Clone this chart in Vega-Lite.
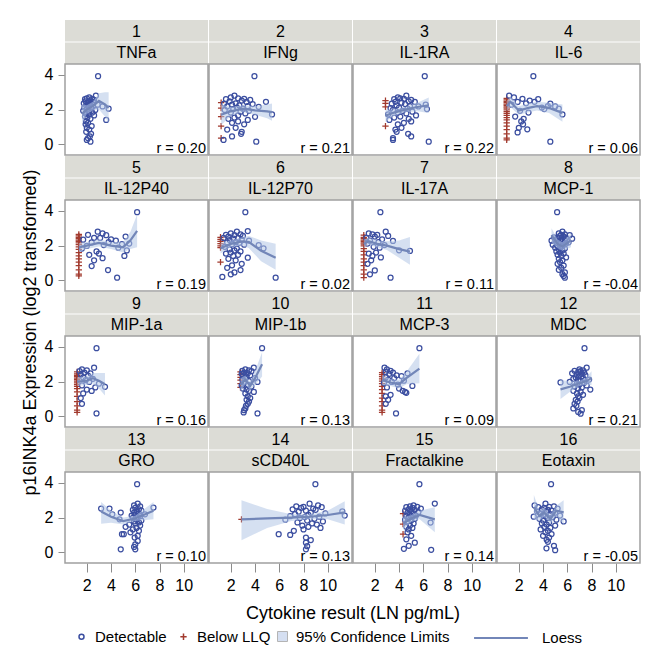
{
"$schema": "https://vega.github.io/schema/vega-lite/v6.json",
"background": "white",
"padding": {"left": 22, "top": 19, "right": 10, "bottom": 5},
"bounds": "flush",
"title": {"text": "p16INK4a Expression (log2 transformed)", "orient": "left", "anchor": "middle", "fontSize": 18, "fontWeight": "normal", "color": "#000", "font": "Liberation Sans", "offset": 4},
"data": {"values": [
{"k":"s","p":1,"n":"TNFa","r":"r = 0.20"},
{"k":"s","p":2,"n":"IFNg","r":"r = 0.21"},
{"k":"s","p":3,"n":"IL-1RA","r":"r = 0.22"},
{"k":"s","p":4,"n":"IL-6","r":"r = 0.06"},
{"k":"s","p":5,"n":"IL-12P40","r":"r = 0.19"},
{"k":"s","p":6,"n":"IL-12P70","r":"r = 0.02"},
{"k":"s","p":7,"n":"IL-17A","r":"r = 0.11"},
{"k":"s","p":8,"n":"MCP-1","r":"r = -0.04"},
{"k":"s","p":9,"n":"MIP-1a","r":"r = 0.16"},
{"k":"s","p":10,"n":"MIP-1b","r":"r = 0.13"},
{"k":"s","p":11,"n":"MCP-3","r":"r = 0.09"},
{"k":"s","p":12,"n":"MDC","r":"r = 0.21"},
{"k":"s","p":13,"n":"GRO","r":"r = 0.10"},
{"k":"s","p":14,"n":"sCD40L","r":"r = 0.13"},
{"k":"s","p":15,"n":"Fractalkine","r":"r = 0.14"},
{"k":"s","p":16,"n":"Eotaxin","r":"r = -0.05"},

{"k":"o","p":1,"t":"D","x":2.93,"y":3.93},{"k":"o","p":1,"t":"D","x":2.75,"y":2.80},{"k":"o","p":1,"t":"D","x":2.2,"y":2.70},{"k":"o","p":1,"t":"D","x":2.0,"y":2.65},{"k":"o","p":1,"t":"D","x":2.45,"y":2.62},{"k":"o","p":1,"t":"D","x":1.85,"y":2.60},{"k":"o","p":1,"t":"D","x":2.6,"y":2.56},{"k":"o","p":1,"t":"D","x":2.3,"y":2.52},{"k":"o","p":1,"t":"D","x":1.9,"y":2.48},{"k":"o","p":1,"t":"D","x":2.15,"y":2.45},{"k":"o","p":1,"t":"D","x":2.55,"y":2.44},{"k":"o","p":1,"t":"D","x":2.05,"y":2.40},{"k":"o","p":1,"t":"D","x":1.75,"y":2.36},{"k":"o","p":1,"t":"D","x":2.4,"y":2.34},{"k":"o","p":1,"t":"D","x":2.25,"y":2.32},{"k":"o","p":1,"t":"D","x":2.9,"y":2.28},{"k":"o","p":1,"t":"D","x":1.95,"y":2.24},{"k":"o","p":1,"t":"D","x":2.1,"y":2.20},{"k":"o","p":1,"t":"D","x":3.3,"y":2.18},{"k":"o","p":1,"t":"D","x":2.5,"y":2.16},{"k":"o","p":1,"t":"D","x":1.8,"y":2.12},{"k":"o","p":1,"t":"D","x":2.35,"y":2.08},{"k":"o","p":1,"t":"D","x":3.8,"y":2.05},{"k":"o","p":1,"t":"D","x":2.0,"y":2.03},{"k":"o","p":1,"t":"D","x":2.7,"y":1.98},{"k":"o","p":1,"t":"D","x":1.7,"y":1.93},{"k":"o","p":1,"t":"D","x":2.2,"y":1.88},{"k":"o","p":1,"t":"D","x":2.45,"y":1.83},{"k":"o","p":1,"t":"D","x":1.9,"y":1.78},{"k":"o","p":1,"t":"D","x":2.15,"y":1.72},{"k":"o","p":1,"t":"D","x":2.6,"y":1.66},{"k":"o","p":1,"t":"D","x":1.85,"y":1.60},{"k":"o","p":1,"t":"D","x":2.05,"y":1.54},{"k":"o","p":1,"t":"D","x":2.3,"y":1.47},{"k":"o","p":1,"t":"D","x":3.6,"y":1.40},{"k":"o","p":1,"t":"D","x":1.95,"y":1.32},{"k":"o","p":1,"t":"D","x":2.1,"y":1.24},{"k":"o","p":1,"t":"D","x":1.9,"y":1.15},{"k":"o","p":1,"t":"D","x":2.4,"y":1.05},{"k":"o","p":1,"t":"D","x":2.0,"y":0.95},{"k":"o","p":1,"t":"D","x":2.2,"y":0.85},{"k":"o","p":1,"t":"D","x":1.95,"y":0.72},{"k":"o","p":1,"t":"D","x":2.35,"y":0.60},{"k":"o","p":1,"t":"D","x":2.25,"y":0.45},{"k":"o","p":1,"t":"D","x":2.1,"y":0.35},{"k":"o","p":1,"t":"D","x":2.0,"y":0.25},{"k":"o","p":1,"t":"D","x":2.3,"y":0.15},

{"k":"o","p":2,"t":"D","x":3.95,"y":3.93},{"k":"o","p":2,"t":"D","x":2.3,"y":2.80},{"k":"o","p":2,"t":"D","x":2.0,"y":2.70},{"k":"o","p":2,"t":"D","x":2.6,"y":2.65},{"k":"o","p":2,"t":"D","x":3.1,"y":2.62},{"k":"o","p":2,"t":"D","x":1.6,"y":2.60},{"k":"o","p":2,"t":"D","x":3.6,"y":2.56},{"k":"o","p":2,"t":"D","x":2.9,"y":2.52},{"k":"o","p":2,"t":"D","x":1.9,"y":2.48},{"k":"o","p":2,"t":"D","x":4.9,"y":2.45},{"k":"o","p":2,"t":"D","x":3.3,"y":2.44},{"k":"o","p":2,"t":"B","x":1.2,"y":2.40},{"k":"o","p":2,"t":"D","x":2.4,"y":2.36},{"k":"o","p":2,"t":"D","x":1.45,"y":2.34},{"k":"o","p":2,"t":"D","x":3.8,"y":2.32},{"k":"o","p":2,"t":"D","x":2.1,"y":2.28},{"k":"o","p":2,"t":"D","x":2.7,"y":2.24},{"k":"o","p":2,"t":"D","x":3.4,"y":2.20},{"k":"o","p":2,"t":"D","x":1.7,"y":2.18},{"k":"o","p":2,"t":"D","x":4.3,"y":2.16},{"k":"o","p":2,"t":"D","x":2.5,"y":2.12},{"k":"o","p":2,"t":"B","x":1.2,"y":2.08},{"k":"o","p":2,"t":"D","x":3.0,"y":2.05},{"k":"o","p":2,"t":"D","x":2.2,"y":2.03},{"k":"o","p":2,"t":"D","x":1.5,"y":1.98},{"k":"o","p":2,"t":"D","x":3.5,"y":1.93},{"k":"o","p":2,"t":"D","x":2.8,"y":1.88},{"k":"o","p":2,"t":"D","x":2.0,"y":1.83},{"k":"o","p":2,"t":"D","x":3.2,"y":1.78},{"k":"o","p":2,"t":"D","x":5.4,"y":1.72},{"k":"o","p":2,"t":"D","x":2.6,"y":1.66},{"k":"o","p":2,"t":"B","x":1.2,"y":1.60},{"k":"o","p":2,"t":"D","x":4.0,"y":1.58},{"k":"o","p":2,"t":"D","x":2.3,"y":1.54},{"k":"o","p":2,"t":"D","x":1.8,"y":1.47},{"k":"o","p":2,"t":"D","x":3.4,"y":1.40},{"k":"o","p":2,"t":"D","x":2.6,"y":1.32},{"k":"o","p":2,"t":"D","x":2.1,"y":1.24},{"k":"o","p":2,"t":"D","x":3.1,"y":1.15},{"k":"o","p":2,"t":"B","x":1.2,"y":1.05},{"k":"o","p":2,"t":"D","x":2.4,"y":0.95},{"k":"o","p":2,"t":"D","x":1.7,"y":0.85},{"k":"o","p":2,"t":"D","x":2.9,"y":0.72},{"k":"o","p":2,"t":"D","x":2.85,"y":0.60},{"k":"o","p":2,"t":"D","x":2.1,"y":0.45},{"k":"o","p":2,"t":"B","x":1.2,"y":0.35},{"k":"o","p":2,"t":"D","x":1.4,"y":0.25},{"k":"o","p":2,"t":"D","x":4.1,"y":0.15},

{"k":"o","p":3,"t":"D","x":6.12,"y":3.93},{"k":"o","p":3,"t":"D","x":4.6,"y":2.80},{"k":"o","p":3,"t":"D","x":3.9,"y":2.70},{"k":"o","p":3,"t":"D","x":4.1,"y":2.65},{"k":"o","p":3,"t":"D","x":4.4,"y":2.62},{"k":"o","p":3,"t":"D","x":3.6,"y":2.60},{"k":"o","p":3,"t":"D","x":5.0,"y":2.56},{"k":"o","p":3,"t":"B","x":2.88,"y":2.52},{"k":"o","p":3,"t":"D","x":4.8,"y":2.48},{"k":"o","p":3,"t":"D","x":3.7,"y":2.45},{"k":"o","p":3,"t":"D","x":5.3,"y":2.44},{"k":"o","p":3,"t":"D","x":4.2,"y":2.40},{"k":"o","p":3,"t":"B","x":2.88,"y":2.36},{"k":"o","p":3,"t":"D","x":3.4,"y":2.34},{"k":"o","p":3,"t":"D","x":4.5,"y":2.32},{"k":"o","p":3,"t":"D","x":6.2,"y":2.28},{"k":"o","p":3,"t":"D","x":3.8,"y":2.24},{"k":"o","p":3,"t":"D","x":4.9,"y":2.20},{"k":"o","p":3,"t":"D","x":5.6,"y":2.18},{"k":"o","p":3,"t":"B","x":2.88,"y":2.16},{"k":"o","p":3,"t":"D","x":4.0,"y":2.12},{"k":"o","p":3,"t":"D","x":3.3,"y":2.08},{"k":"o","p":3,"t":"D","x":4.7,"y":2.05},{"k":"o","p":3,"t":"D","x":6.3,"y":2.03},{"k":"o","p":3,"t":"D","x":3.5,"y":1.98},{"k":"o","p":3,"t":"D","x":4.3,"y":1.93},{"k":"o","p":3,"t":"D","x":5.1,"y":1.88},{"k":"o","p":3,"t":"D","x":3.9,"y":1.83},{"k":"o","p":3,"t":"D","x":4.6,"y":1.78},{"k":"o","p":3,"t":"D","x":3.1,"y":1.72},{"k":"o","p":3,"t":"D","x":5.4,"y":1.66},{"k":"o","p":3,"t":"D","x":4.1,"y":1.60},{"k":"o","p":3,"t":"D","x":3.6,"y":1.54},{"k":"o","p":3,"t":"D","x":4.8,"y":1.47},{"k":"o","p":3,"t":"D","x":3.2,"y":1.40},{"k":"o","p":3,"t":"D","x":5.0,"y":1.32},{"k":"o","p":3,"t":"D","x":4.4,"y":1.24},{"k":"o","p":3,"t":"D","x":3.9,"y":1.15},{"k":"o","p":3,"t":"B","x":2.88,"y":1.05},{"k":"o","p":3,"t":"D","x":4.2,"y":0.95},{"k":"o","p":3,"t":"D","x":3.7,"y":0.85},{"k":"o","p":3,"t":"D","x":3.8,"y":0.72},{"k":"o","p":3,"t":"D","x":4.75,"y":0.60},{"k":"o","p":3,"t":"D","x":5.0,"y":0.45},{"k":"o","p":3,"t":"D","x":3.5,"y":0.35},{"k":"o","p":3,"t":"D","x":3.5,"y":0.25},{"k":"o","p":3,"t":"D","x":6.45,"y":0.15},

{"k":"o","p":4,"t":"B","x":1.0,"y":2.65},{"k":"o","p":4,"t":"B","x":1.0,"y":2.56},{"k":"o","p":4,"t":"B","x":1.0,"y":2.48},{"k":"o","p":4,"t":"B","x":1.0,"y":2.40},{"k":"o","p":4,"t":"B","x":1.0,"y":2.32},{"k":"o","p":4,"t":"B","x":1.0,"y":2.24},{"k":"o","p":4,"t":"B","x":1.0,"y":2.16},{"k":"o","p":4,"t":"B","x":1.0,"y":2.08},{"k":"o","p":4,"t":"B","x":1.0,"y":1.98},{"k":"o","p":4,"t":"B","x":1.0,"y":1.88},{"k":"o","p":4,"t":"B","x":1.0,"y":1.78},{"k":"o","p":4,"t":"B","x":1.0,"y":1.66},{"k":"o","p":4,"t":"B","x":1.0,"y":1.54},{"k":"o","p":4,"t":"B","x":1.0,"y":1.40},{"k":"o","p":4,"t":"B","x":1.0,"y":1.24},{"k":"o","p":4,"t":"B","x":1.0,"y":1.05},{"k":"o","p":4,"t":"B","x":1.0,"y":0.85},{"k":"o","p":4,"t":"B","x":1.0,"y":0.60},{"k":"o","p":4,"t":"B","x":1.0,"y":0.35},{"k":"o","p":4,"t":"B","x":1.0,"y":0.25},
{"k":"o","p":4,"t":"D","x":3.2,"y":3.93},{"k":"o","p":4,"t":"D","x":1.2,"y":2.80},{"k":"o","p":4,"t":"D","x":1.6,"y":2.70},{"k":"o","p":4,"t":"D","x":2.3,"y":2.62},{"k":"o","p":4,"t":"D","x":3.6,"y":2.60},{"k":"o","p":4,"t":"D","x":2.9,"y":2.52},{"k":"o","p":4,"t":"D","x":3.3,"y":2.45},{"k":"o","p":4,"t":"D","x":1.9,"y":2.44},{"k":"o","p":4,"t":"D","x":2.6,"y":2.36},{"k":"o","p":4,"t":"D","x":4.6,"y":2.34},{"k":"o","p":4,"t":"D","x":1.4,"y":2.28},{"k":"o","p":4,"t":"D","x":4.4,"y":2.20},{"k":"o","p":4,"t":"D","x":5.0,"y":2.18},{"k":"o","p":4,"t":"D","x":3.9,"y":2.12},{"k":"o","p":4,"t":"D","x":5.3,"y":2.05},{"k":"o","p":4,"t":"D","x":4.1,"y":2.03},{"k":"o","p":4,"t":"D","x":2.1,"y":1.93},{"k":"o","p":4,"t":"D","x":2.8,"y":1.83},{"k":"o","p":4,"t":"D","x":5.6,"y":1.72},{"k":"o","p":4,"t":"D","x":1.7,"y":1.60},{"k":"o","p":4,"t":"D","x":2.4,"y":1.47},{"k":"o","p":4,"t":"D","x":2.2,"y":1.32},{"k":"o","p":4,"t":"D","x":2.35,"y":1.15},{"k":"o","p":4,"t":"D","x":2.7,"y":0.86},{"k":"o","p":4,"t":"D","x":2.0,"y":0.95},{"k":"o","p":4,"t":"D","x":1.9,"y":0.68},{"k":"o","p":4,"t":"D","x":4.6,"y":0.15},

{"k":"o","p":5,"t":"B","x":1.34,"y":2.65},{"k":"o","p":5,"t":"B","x":1.34,"y":2.56},{"k":"o","p":5,"t":"B","x":1.34,"y":2.48},{"k":"o","p":5,"t":"B","x":1.34,"y":2.40},{"k":"o","p":5,"t":"B","x":1.34,"y":2.32},{"k":"o","p":5,"t":"B","x":1.34,"y":2.24},{"k":"o","p":5,"t":"B","x":1.34,"y":2.16},{"k":"o","p":5,"t":"B","x":1.34,"y":2.05},{"k":"o","p":5,"t":"B","x":1.34,"y":1.93},{"k":"o","p":5,"t":"B","x":1.34,"y":1.78},{"k":"o","p":5,"t":"B","x":1.34,"y":1.60},{"k":"o","p":5,"t":"B","x":1.34,"y":1.40},{"k":"o","p":5,"t":"B","x":1.34,"y":1.24},{"k":"o","p":5,"t":"B","x":1.34,"y":1.05},{"k":"o","p":5,"t":"B","x":1.34,"y":0.85},{"k":"o","p":5,"t":"B","x":1.34,"y":0.60},{"k":"o","p":5,"t":"B","x":1.34,"y":0.35},{"k":"o","p":5,"t":"B","x":1.34,"y":0.25},
{"k":"o","p":5,"t":"D","x":6.15,"y":3.93},{"k":"o","p":5,"t":"D","x":2.9,"y":2.80},{"k":"o","p":5,"t":"D","x":3.3,"y":2.70},{"k":"o","p":5,"t":"D","x":2.1,"y":2.62},{"k":"o","p":5,"t":"D","x":3.6,"y":2.60},{"k":"o","p":5,"t":"D","x":5.2,"y":2.52},{"k":"o","p":5,"t":"D","x":2.6,"y":2.45},{"k":"o","p":5,"t":"D","x":3.1,"y":2.44},{"k":"o","p":5,"t":"D","x":4.0,"y":2.36},{"k":"o","p":5,"t":"D","x":1.7,"y":2.34},{"k":"o","p":5,"t":"D","x":4.4,"y":2.28},{"k":"o","p":5,"t":"D","x":3.8,"y":2.20},{"k":"o","p":5,"t":"D","x":2.4,"y":2.18},{"k":"o","p":5,"t":"D","x":5.5,"y":2.12},{"k":"o","p":5,"t":"D","x":4.9,"y":2.08},{"k":"o","p":5,"t":"D","x":3.4,"y":2.03},{"k":"o","p":5,"t":"D","x":2.0,"y":1.98},{"k":"o","p":5,"t":"D","x":4.6,"y":1.88},{"k":"o","p":5,"t":"D","x":1.6,"y":1.83},{"k":"o","p":5,"t":"D","x":5.3,"y":1.72},{"k":"o","p":5,"t":"D","x":2.8,"y":1.66},{"k":"o","p":5,"t":"D","x":3.0,"y":1.54},{"k":"o","p":5,"t":"D","x":2.2,"y":1.47},{"k":"o","p":5,"t":"D","x":5.1,"y":1.40},{"k":"o","p":5,"t":"D","x":3.3,"y":1.27},{"k":"o","p":5,"t":"D","x":2.6,"y":1.15},{"k":"o","p":5,"t":"D","x":2.4,"y":0.82},{"k":"o","p":5,"t":"D","x":3.75,"y":0.59},{"k":"o","p":5,"t":"D","x":4.5,"y":0.15},

{"k":"o","p":6,"t":"B","x":1.15,"y":2.48},{"k":"o","p":6,"t":"B","x":1.15,"y":2.36},{"k":"o","p":6,"t":"B","x":1.15,"y":2.24},{"k":"o","p":6,"t":"B","x":1.15,"y":2.12},{"k":"o","p":6,"t":"B","x":1.15,"y":1.98},{"k":"o","p":6,"t":"B","x":1.15,"y":1.88},{"k":"o","p":6,"t":"B","x":1.15,"y":1.05},
{"k":"o","p":6,"t":"D","x":3.2,"y":3.93},{"k":"o","p":6,"t":"D","x":3.4,"y":2.84},{"k":"o","p":6,"t":"D","x":2.5,"y":2.80},{"k":"o","p":6,"t":"D","x":2.0,"y":2.70},{"k":"o","p":6,"t":"D","x":2.8,"y":2.65},{"k":"o","p":6,"t":"D","x":1.6,"y":2.62},{"k":"o","p":6,"t":"D","x":2.3,"y":2.60},{"k":"o","p":6,"t":"D","x":3.0,"y":2.56},{"k":"o","p":6,"t":"D","x":1.8,"y":2.52},{"k":"o","p":6,"t":"D","x":2.6,"y":2.45},{"k":"o","p":6,"t":"D","x":1.4,"y":2.44},{"k":"o","p":6,"t":"D","x":2.2,"y":2.40},{"k":"o","p":6,"t":"D","x":2.9,"y":2.34},{"k":"o","p":6,"t":"D","x":1.9,"y":2.32},{"k":"o","p":6,"t":"D","x":3.5,"y":2.28},{"k":"o","p":6,"t":"D","x":2.4,"y":2.20},{"k":"o","p":6,"t":"D","x":1.7,"y":2.18},{"k":"o","p":6,"t":"D","x":2.7,"y":2.16},{"k":"o","p":6,"t":"D","x":2.1,"y":2.08},{"k":"o","p":6,"t":"D","x":4.3,"y":2.03},{"k":"o","p":6,"t":"D","x":3.1,"y":2.05},{"k":"o","p":6,"t":"D","x":1.5,"y":1.93},{"k":"o","p":6,"t":"D","x":4.7,"y":1.84},{"k":"o","p":6,"t":"D","x":2.5,"y":1.83},{"k":"o","p":6,"t":"D","x":1.9,"y":1.78},{"k":"o","p":6,"t":"D","x":2.3,"y":1.72},{"k":"o","p":6,"t":"D","x":2.8,"y":1.66},{"k":"o","p":6,"t":"D","x":2.0,"y":1.60},{"k":"o","p":6,"t":"D","x":1.6,"y":1.54},{"k":"o","p":6,"t":"D","x":2.6,"y":1.47},{"k":"o","p":6,"t":"D","x":2.2,"y":1.40},{"k":"o","p":6,"t":"D","x":3.4,"y":1.30},{"k":"o","p":6,"t":"D","x":1.8,"y":1.24},{"k":"o","p":6,"t":"D","x":2.4,"y":1.15},{"k":"o","p":6,"t":"D","x":2.9,"y":0.95},{"k":"o","p":6,"t":"D","x":2.1,"y":0.86},{"k":"o","p":6,"t":"D","x":1.7,"y":0.72},{"k":"o","p":6,"t":"D","x":2.8,"y":0.59},{"k":"o","p":6,"t":"D","x":2.3,"y":0.45},{"k":"o","p":6,"t":"D","x":2.0,"y":0.34},{"k":"o","p":6,"t":"D","x":1.3,"y":0.19},{"k":"o","p":6,"t":"D","x":5.7,"y":0.15},

{"k":"o","p":7,"t":"B","x":1.09,"y":2.60},{"k":"o","p":7,"t":"B","x":1.09,"y":2.48},{"k":"o","p":7,"t":"B","x":1.09,"y":2.40},{"k":"o","p":7,"t":"B","x":1.09,"y":2.32},{"k":"o","p":7,"t":"B","x":1.09,"y":2.24},{"k":"o","p":7,"t":"B","x":1.09,"y":2.16},{"k":"o","p":7,"t":"B","x":1.09,"y":2.08},{"k":"o","p":7,"t":"B","x":1.09,"y":1.98},{"k":"o","p":7,"t":"B","x":1.09,"y":1.83},{"k":"o","p":7,"t":"B","x":1.09,"y":1.66},{"k":"o","p":7,"t":"B","x":1.09,"y":1.47},{"k":"o","p":7,"t":"B","x":1.09,"y":1.24},{"k":"o","p":7,"t":"B","x":1.09,"y":1.05},{"k":"o","p":7,"t":"B","x":1.09,"y":0.85},{"k":"o","p":7,"t":"B","x":1.09,"y":0.60},{"k":"o","p":7,"t":"B","x":1.09,"y":0.35},{"k":"o","p":7,"t":"B","x":1.09,"y":0.15},
{"k":"o","p":7,"t":"D","x":2.46,"y":3.93},{"k":"o","p":7,"t":"D","x":2.9,"y":2.80},{"k":"o","p":7,"t":"D","x":1.5,"y":2.70},{"k":"o","p":7,"t":"D","x":1.8,"y":2.65},{"k":"o","p":7,"t":"D","x":2.2,"y":2.62},{"k":"o","p":7,"t":"D","x":3.1,"y":2.56},{"k":"o","p":7,"t":"D","x":2.0,"y":2.52},{"k":"o","p":7,"t":"D","x":1.3,"y":2.45},{"k":"o","p":7,"t":"D","x":2.6,"y":2.36},{"k":"o","p":7,"t":"D","x":1.6,"y":2.28},{"k":"o","p":7,"t":"D","x":3.5,"y":2.27},{"k":"o","p":7,"t":"D","x":2.3,"y":2.20},{"k":"o","p":7,"t":"D","x":1.4,"y":2.12},{"k":"o","p":7,"t":"D","x":2.8,"y":2.03},{"k":"o","p":7,"t":"D","x":1.9,"y":1.93},{"k":"o","p":7,"t":"D","x":2.4,"y":1.88},{"k":"o","p":7,"t":"D","x":4.0,"y":1.73},{"k":"o","p":7,"t":"D","x":4.9,"y":1.69},{"k":"o","p":7,"t":"D","x":2.1,"y":1.60},{"k":"o","p":7,"t":"D","x":1.5,"y":1.54},{"k":"o","p":7,"t":"D","x":1.8,"y":1.40},{"k":"o","p":7,"t":"D","x":2.5,"y":1.32},{"k":"o","p":7,"t":"D","x":1.7,"y":1.15},{"k":"o","p":7,"t":"D","x":1.4,"y":0.95},{"k":"o","p":7,"t":"D","x":2.0,"y":0.57},{"k":"o","p":7,"t":"D","x":1.6,"y":0.34},{"k":"o","p":7,"t":"D","x":3.3,"y":0.15},

{"k":"o","p":8,"t":"D","x":5.16,"y":3.93},{"k":"o","p":8,"t":"D","x":5.6,"y":2.80},{"k":"o","p":8,"t":"D","x":5.3,"y":2.70},{"k":"o","p":8,"t":"D","x":5.8,"y":2.65},{"k":"o","p":8,"t":"D","x":5.5,"y":2.62},{"k":"o","p":8,"t":"D","x":6.2,"y":2.60},{"k":"o","p":8,"t":"D","x":5.4,"y":2.56},{"k":"o","p":8,"t":"D","x":5.7,"y":2.52},{"k":"o","p":8,"t":"D","x":4.9,"y":2.48},{"k":"o","p":8,"t":"D","x":5.9,"y":2.45},{"k":"o","p":8,"t":"D","x":5.2,"y":2.44},{"k":"o","p":8,"t":"D","x":6.4,"y":2.40},{"k":"o","p":8,"t":"D","x":5.5,"y":2.36},{"k":"o","p":8,"t":"D","x":5.0,"y":2.34},{"k":"o","p":8,"t":"D","x":5.8,"y":2.32},{"k":"o","p":8,"t":"D","x":4.7,"y":2.28},{"k":"o","p":8,"t":"D","x":5.6,"y":2.24},{"k":"o","p":8,"t":"D","x":5.3,"y":2.20},{"k":"o","p":8,"t":"D","x":6.1,"y":2.18},{"k":"o","p":8,"t":"D","x":5.1,"y":2.16},{"k":"o","p":8,"t":"D","x":5.9,"y":2.12},{"k":"o","p":8,"t":"D","x":5.4,"y":2.08},{"k":"o","p":8,"t":"D","x":4.8,"y":2.05},{"k":"o","p":8,"t":"D","x":5.7,"y":2.03},{"k":"o","p":8,"t":"D","x":5.2,"y":1.98},{"k":"o","p":8,"t":"D","x":5.5,"y":1.93},{"k":"o","p":8,"t":"D","x":5.0,"y":1.88},{"k":"o","p":8,"t":"D","x":5.8,"y":1.83},{"k":"o","p":8,"t":"D","x":5.3,"y":1.78},{"k":"o","p":8,"t":"D","x":5.6,"y":1.72},{"k":"o","p":8,"t":"D","x":5.1,"y":1.66},{"k":"o","p":8,"t":"D","x":5.4,"y":1.60},{"k":"o","p":8,"t":"D","x":5.7,"y":1.54},{"k":"o","p":8,"t":"D","x":5.2,"y":1.47},{"k":"o","p":8,"t":"D","x":5.5,"y":1.40},{"k":"o","p":8,"t":"D","x":5.9,"y":1.32},{"k":"o","p":8,"t":"D","x":5.3,"y":1.24},{"k":"o","p":8,"t":"D","x":5.6,"y":1.15},{"k":"o","p":8,"t":"D","x":5.4,"y":1.05},{"k":"o","p":8,"t":"D","x":5.2,"y":0.95},{"k":"o","p":8,"t":"D","x":5.7,"y":0.85},{"k":"o","p":8,"t":"D","x":5.5,"y":0.72},{"k":"o","p":8,"t":"D","x":5.3,"y":0.60},{"k":"o","p":8,"t":"D","x":5.8,"y":0.45},{"k":"o","p":8,"t":"D","x":5.6,"y":0.35},{"k":"o","p":8,"t":"D","x":5.7,"y":0.25},{"k":"o","p":8,"t":"D","x":5.8,"y":0.15},

{"k":"o","p":9,"t":"B","x":1.2,"y":2.56},{"k":"o","p":9,"t":"B","x":1.2,"y":2.45},{"k":"o","p":9,"t":"B","x":1.2,"y":2.36},{"k":"o","p":9,"t":"B","x":1.2,"y":2.28},{"k":"o","p":9,"t":"B","x":1.2,"y":2.20},{"k":"o","p":9,"t":"B","x":1.2,"y":2.12},{"k":"o","p":9,"t":"B","x":1.2,"y":2.03},{"k":"o","p":9,"t":"B","x":1.2,"y":1.93},{"k":"o","p":9,"t":"B","x":1.2,"y":1.83},{"k":"o","p":9,"t":"B","x":1.2,"y":1.72},{"k":"o","p":9,"t":"B","x":1.2,"y":1.60},{"k":"o","p":9,"t":"B","x":1.2,"y":1.40},{"k":"o","p":9,"t":"B","x":1.2,"y":1.15},{"k":"o","p":9,"t":"B","x":1.2,"y":0.85},{"k":"o","p":9,"t":"B","x":1.2,"y":0.60},{"k":"o","p":9,"t":"B","x":1.2,"y":0.35},{"k":"o","p":9,"t":"B","x":1.2,"y":0.22},
{"k":"o","p":9,"t":"D","x":2.8,"y":3.93},{"k":"o","p":9,"t":"D","x":2.6,"y":2.80},{"k":"o","p":9,"t":"D","x":1.6,"y":2.70},{"k":"o","p":9,"t":"D","x":2.0,"y":2.65},{"k":"o","p":9,"t":"D","x":1.4,"y":2.60},{"k":"o","p":9,"t":"D","x":1.8,"y":2.52},{"k":"o","p":9,"t":"D","x":2.3,"y":2.48},{"k":"o","p":9,"t":"D","x":1.5,"y":2.40},{"k":"o","p":9,"t":"D","x":2.1,"y":2.34},{"k":"o","p":9,"t":"D","x":1.7,"y":2.24},{"k":"o","p":9,"t":"D","x":2.5,"y":2.16},{"k":"o","p":9,"t":"D","x":1.9,"y":2.08},{"k":"o","p":9,"t":"D","x":2.2,"y":1.98},{"k":"o","p":9,"t":"D","x":3.0,"y":1.88},{"k":"o","p":9,"t":"D","x":1.6,"y":1.78},{"k":"o","p":9,"t":"D","x":3.5,"y":1.70},{"k":"o","p":9,"t":"D","x":2.7,"y":1.66},{"k":"o","p":9,"t":"D","x":2.0,"y":1.54},{"k":"o","p":9,"t":"D","x":2.4,"y":1.46},{"k":"o","p":9,"t":"D","x":1.7,"y":1.32},{"k":"o","p":9,"t":"D","x":1.5,"y":1.05},{"k":"o","p":9,"t":"D","x":1.6,"y":0.72},{"k":"o","p":9,"t":"D","x":2.8,"y":0.16},

{"k":"o","p":10,"t":"B","x":2.8,"y":2.56},{"k":"o","p":10,"t":"B","x":2.8,"y":2.40},{"k":"o","p":10,"t":"B","x":2.8,"y":2.24},{"k":"o","p":10,"t":"B","x":2.8,"y":2.08},{"k":"o","p":10,"t":"B","x":2.8,"y":1.88},{"k":"o","p":10,"t":"B","x":2.8,"y":1.66},
{"k":"o","p":10,"t":"D","x":4.58,"y":3.93},{"k":"o","p":10,"t":"D","x":3.9,"y":2.80},{"k":"o","p":10,"t":"D","x":3.2,"y":2.70},{"k":"o","p":10,"t":"D","x":3.5,"y":2.65},{"k":"o","p":10,"t":"D","x":2.95,"y":2.62},{"k":"o","p":10,"t":"D","x":3.7,"y":2.60},{"k":"o","p":10,"t":"D","x":3.1,"y":2.52},{"k":"o","p":10,"t":"D","x":3.4,"y":2.48},{"k":"o","p":10,"t":"D","x":2.9,"y":2.45},{"k":"o","p":10,"t":"D","x":3.6,"y":2.36},{"k":"o","p":10,"t":"D","x":3.0,"y":2.32},{"k":"o","p":10,"t":"D","x":3.3,"y":2.28},{"k":"o","p":10,"t":"D","x":4.0,"y":2.20},{"k":"o","p":10,"t":"D","x":3.2,"y":2.16},{"k":"o","p":10,"t":"D","x":2.95,"y":2.12},{"k":"o","p":10,"t":"D","x":3.5,"y":2.03},{"k":"o","p":10,"t":"D","x":4.2,"y":1.98},{"k":"o","p":10,"t":"D","x":3.1,"y":1.93},{"k":"o","p":10,"t":"D","x":3.4,"y":1.83},{"k":"o","p":10,"t":"D","x":2.9,"y":1.78},{"k":"o","p":10,"t":"D","x":3.7,"y":1.72},{"k":"o","p":10,"t":"D","x":3.0,"y":1.60},{"k":"o","p":10,"t":"D","x":3.3,"y":1.54},{"k":"o","p":10,"t":"D","x":3.5,"y":1.47},{"k":"o","p":10,"t":"D","x":3.9,"y":1.40},{"k":"o","p":10,"t":"D","x":3.2,"y":1.32},{"k":"o","p":10,"t":"D","x":3.4,"y":1.15},{"k":"o","p":10,"t":"D","x":3.6,"y":1.05},{"k":"o","p":10,"t":"D","x":3.3,"y":0.95},{"k":"o","p":10,"t":"D","x":3.5,"y":0.85},{"k":"o","p":10,"t":"D","x":3.4,"y":0.72},{"k":"o","p":10,"t":"D","x":3.25,"y":0.60},{"k":"o","p":10,"t":"D","x":3.2,"y":0.45},{"k":"o","p":10,"t":"D","x":3.1,"y":0.35},{"k":"o","p":10,"t":"D","x":3.06,"y":0.22},{"k":"o","p":10,"t":"D","x":4.2,"y":0.16},

{"k":"o","p":11,"t":"B","x":2.6,"y":2.52},{"k":"o","p":11,"t":"B","x":2.6,"y":2.40},{"k":"o","p":11,"t":"B","x":2.6,"y":2.28},{"k":"o","p":11,"t":"B","x":2.6,"y":2.16},{"k":"o","p":11,"t":"B","x":2.6,"y":2.03},{"k":"o","p":11,"t":"B","x":2.6,"y":1.88},{"k":"o","p":11,"t":"B","x":2.6,"y":1.72},{"k":"o","p":11,"t":"B","x":2.6,"y":1.54},{"k":"o","p":11,"t":"B","x":2.6,"y":1.32},{"k":"o","p":11,"t":"B","x":2.6,"y":1.05},{"k":"o","p":11,"t":"B","x":2.6,"y":0.85},{"k":"o","p":11,"t":"B","x":2.6,"y":0.60},{"k":"o","p":11,"t":"B","x":2.6,"y":0.35},{"k":"o","p":11,"t":"B","x":2.6,"y":0.22},
{"k":"o","p":11,"t":"D","x":5.68,"y":3.93},{"k":"o","p":11,"t":"D","x":2.8,"y":2.80},{"k":"o","p":11,"t":"D","x":3.0,"y":2.70},{"k":"o","p":11,"t":"D","x":3.3,"y":2.62},{"k":"o","p":11,"t":"D","x":2.9,"y":2.56},{"k":"o","p":11,"t":"D","x":3.5,"y":2.52},{"k":"o","p":11,"t":"D","x":4.7,"y":2.48},{"k":"o","p":11,"t":"D","x":3.2,"y":2.45},{"k":"o","p":11,"t":"D","x":3.8,"y":2.36},{"k":"o","p":11,"t":"D","x":4.2,"y":2.32},{"k":"o","p":11,"t":"D","x":2.9,"y":2.24},{"k":"o","p":11,"t":"D","x":3.6,"y":2.20},{"k":"o","p":11,"t":"D","x":3.1,"y":2.12},{"k":"o","p":11,"t":"D","x":4.4,"y":2.05},{"k":"o","p":11,"t":"D","x":3.4,"y":1.98},{"k":"o","p":11,"t":"D","x":2.75,"y":1.93},{"k":"o","p":11,"t":"D","x":3.9,"y":1.83},{"k":"o","p":11,"t":"D","x":5.1,"y":1.75},{"k":"o","p":11,"t":"D","x":3.0,"y":1.66},{"k":"o","p":11,"t":"D","x":4.0,"y":1.60},{"k":"o","p":11,"t":"D","x":4.3,"y":1.47},{"k":"o","p":11,"t":"D","x":4.5,"y":1.40},{"k":"o","p":11,"t":"D","x":4.6,"y":1.35},{"k":"o","p":11,"t":"D","x":3.3,"y":1.24},{"k":"o","p":11,"t":"D","x":2.9,"y":1.15},{"k":"o","p":11,"t":"D","x":3.1,"y":0.95},{"k":"o","p":11,"t":"D","x":2.9,"y":0.72},{"k":"o","p":11,"t":"D","x":3.75,"y":0.16},

{"k":"o","p":12,"t":"D","x":7.42,"y":3.93},{"k":"o","p":12,"t":"D","x":7.6,"y":2.80},{"k":"o","p":12,"t":"D","x":7.0,"y":2.70},{"k":"o","p":12,"t":"D","x":7.3,"y":2.65},{"k":"o","p":12,"t":"D","x":6.6,"y":2.62},{"k":"o","p":12,"t":"D","x":7.1,"y":2.60},{"k":"o","p":12,"t":"D","x":6.9,"y":2.56},{"k":"o","p":12,"t":"D","x":7.4,"y":2.52},{"k":"o","p":12,"t":"D","x":6.4,"y":2.48},{"k":"o","p":12,"t":"D","x":7.2,"y":2.45},{"k":"o","p":12,"t":"D","x":6.8,"y":2.40},{"k":"o","p":12,"t":"D","x":7.5,"y":2.36},{"k":"o","p":12,"t":"D","x":6.95,"y":2.32},{"k":"o","p":12,"t":"D","x":7.15,"y":2.28},{"k":"o","p":12,"t":"D","x":6.7,"y":2.24},{"k":"o","p":12,"t":"D","x":7.3,"y":2.20},{"k":"o","p":12,"t":"D","x":6.5,"y":2.16},{"k":"o","p":12,"t":"D","x":7.8,"y":2.12},{"k":"o","p":12,"t":"D","x":6.9,"y":2.08},{"k":"o","p":12,"t":"D","x":7.1,"y":2.05},{"k":"o","p":12,"t":"D","x":6.2,"y":1.98},{"k":"o","p":12,"t":"D","x":5.44,"y":1.95},{"k":"o","p":12,"t":"D","x":7.4,"y":1.93},{"k":"o","p":12,"t":"D","x":6.8,"y":1.88},{"k":"o","p":12,"t":"D","x":7.0,"y":1.83},{"k":"o","p":12,"t":"D","x":7.6,"y":1.78},{"k":"o","p":12,"t":"D","x":6.6,"y":1.72},{"k":"o","p":12,"t":"D","x":7.2,"y":1.66},{"k":"o","p":12,"t":"D","x":6.9,"y":1.60},{"k":"o","p":12,"t":"D","x":7.9,"y":1.54},{"k":"o","p":12,"t":"D","x":6.5,"y":1.47},{"k":"o","p":12,"t":"D","x":7.1,"y":1.40},{"k":"o","p":12,"t":"D","x":6.8,"y":1.32},{"k":"o","p":12,"t":"D","x":7.3,"y":1.24},{"k":"o","p":12,"t":"D","x":6.9,"y":1.15},{"k":"o","p":12,"t":"D","x":7.0,"y":1.05},{"k":"o","p":12,"t":"D","x":6.7,"y":0.95},{"k":"o","p":12,"t":"D","x":6.85,"y":0.85},{"k":"o","p":12,"t":"D","x":6.6,"y":0.72},{"k":"o","p":12,"t":"D","x":6.75,"y":0.60},{"k":"o","p":12,"t":"D","x":6.5,"y":0.45},{"k":"o","p":12,"t":"D","x":7.2,"y":0.35},{"k":"o","p":12,"t":"D","x":6.9,"y":0.25},{"k":"o","p":12,"t":"D","x":7.1,"y":0.15},

{"k":"o","p":13,"t":"D","x":6.15,"y":3.93},{"k":"o","p":13,"t":"D","x":6.2,"y":2.80},{"k":"o","p":13,"t":"D","x":5.9,"y":2.70},{"k":"o","p":13,"t":"D","x":6.4,"y":2.65},{"k":"o","p":13,"t":"D","x":7.5,"y":2.58},{"k":"o","p":13,"t":"D","x":6.0,"y":2.56},{"k":"o","p":13,"t":"D","x":3.18,"y":2.52},{"k":"o","p":13,"t":"D","x":3.87,"y":2.52},{"k":"o","p":13,"t":"D","x":6.3,"y":2.48},{"k":"o","p":13,"t":"D","x":5.8,"y":2.44},{"k":"o","p":13,"t":"D","x":6.5,"y":2.40},{"k":"o","p":13,"t":"D","x":6.1,"y":2.36},{"k":"o","p":13,"t":"D","x":4.8,"y":2.29},{"k":"o","p":13,"t":"D","x":5.9,"y":2.28},{"k":"o","p":13,"t":"D","x":6.3,"y":2.24},{"k":"o","p":13,"t":"D","x":4.1,"y":2.19},{"k":"o","p":13,"t":"D","x":6.8,"y":2.19},{"k":"o","p":13,"t":"D","x":6.0,"y":2.16},{"k":"o","p":13,"t":"D","x":5.7,"y":2.12},{"k":"o","p":13,"t":"D","x":6.4,"y":2.08},{"k":"o","p":13,"t":"D","x":6.2,"y":2.03},{"k":"o","p":13,"t":"D","x":5.8,"y":1.98},{"k":"o","p":13,"t":"D","x":4.7,"y":1.90},{"k":"o","p":13,"t":"D","x":6.1,"y":1.88},{"k":"o","p":13,"t":"D","x":6.5,"y":1.83},{"k":"o","p":13,"t":"D","x":5.9,"y":1.78},{"k":"o","p":13,"t":"D","x":6.3,"y":1.72},{"k":"o","p":13,"t":"D","x":6.0,"y":1.66},{"k":"o","p":13,"t":"D","x":5.5,"y":1.60},{"k":"o","p":13,"t":"D","x":6.4,"y":1.54},{"k":"o","p":13,"t":"D","x":5.2,"y":1.47},{"k":"o","p":13,"t":"D","x":6.1,"y":1.40},{"k":"o","p":13,"t":"D","x":5.8,"y":1.32},{"k":"o","p":13,"t":"D","x":6.3,"y":1.24},{"k":"o","p":13,"t":"D","x":5.6,"y":1.15},{"k":"o","p":13,"t":"D","x":4.9,"y":1.04},{"k":"o","p":13,"t":"D","x":5.05,"y":1.04},{"k":"o","p":13,"t":"D","x":6.2,"y":0.95},{"k":"o","p":13,"t":"D","x":5.95,"y":0.85},{"k":"o","p":13,"t":"D","x":6.2,"y":0.65},{"k":"o","p":13,"t":"D","x":6.0,"y":0.45},{"k":"o","p":13,"t":"D","x":5.9,"y":0.31},{"k":"o","p":13,"t":"D","x":4.8,"y":0.17},{"k":"o","p":13,"t":"D","x":6.0,"y":0.17},

{"k":"o","p":14,"t":"B","x":2.88,"y":1.90},
{"k":"o","p":14,"t":"D","x":8.98,"y":3.93},{"k":"o","p":14,"t":"D","x":8.5,"y":2.80},{"k":"o","p":14,"t":"D","x":9.2,"y":2.70},{"k":"o","p":14,"t":"D","x":7.4,"y":2.65},{"k":"o","p":14,"t":"D","x":8.0,"y":2.62},{"k":"o","p":14,"t":"D","x":9.5,"y":2.60},{"k":"o","p":14,"t":"D","x":7.8,"y":2.56},{"k":"o","p":14,"t":"D","x":8.8,"y":2.52},{"k":"o","p":14,"t":"D","x":7.1,"y":2.48},{"k":"o","p":14,"t":"D","x":9.0,"y":2.45},{"k":"o","p":14,"t":"D","x":8.2,"y":2.40},{"k":"o","p":14,"t":"D","x":11.2,"y":2.36},{"k":"o","p":14,"t":"D","x":7.6,"y":2.34},{"k":"o","p":14,"t":"D","x":8.6,"y":2.28},{"k":"o","p":14,"t":"D","x":9.8,"y":2.24},{"k":"o","p":14,"t":"D","x":7.3,"y":2.20},{"k":"o","p":14,"t":"D","x":8.4,"y":2.16},{"k":"o","p":14,"t":"D","x":11.4,"y":2.12},{"k":"o","p":14,"t":"D","x":6.9,"y":2.08},{"k":"o","p":14,"t":"D","x":9.3,"y":2.05},{"k":"o","p":14,"t":"D","x":8.1,"y":2.03},{"k":"o","p":14,"t":"D","x":7.7,"y":1.98},{"k":"o","p":14,"t":"D","x":8.9,"y":1.93},{"k":"o","p":14,"t":"D","x":6.5,"y":1.88},{"k":"o","p":14,"t":"D","x":8.3,"y":1.83},{"k":"o","p":14,"t":"D","x":9.6,"y":1.78},{"k":"o","p":14,"t":"D","x":7.5,"y":1.72},{"k":"o","p":14,"t":"D","x":8.7,"y":1.66},{"k":"o","p":14,"t":"D","x":9.1,"y":1.60},{"k":"o","p":14,"t":"D","x":7.9,"y":1.54},{"k":"o","p":14,"t":"D","x":8.4,"y":1.47},{"k":"o","p":14,"t":"D","x":9.4,"y":1.40},{"k":"o","p":14,"t":"D","x":8.0,"y":1.32},{"k":"o","p":14,"t":"D","x":7.2,"y":1.24},{"k":"o","p":14,"t":"D","x":5.95,"y":1.04},{"k":"o","p":14,"t":"D","x":6.9,"y":1.00},{"k":"o","p":14,"t":"D","x":8.2,"y":0.85},{"k":"o","p":14,"t":"D","x":8.6,"y":0.70},{"k":"o","p":14,"t":"D","x":8.2,"y":0.55},{"k":"o","p":14,"t":"D","x":8.3,"y":0.35},{"k":"o","p":14,"t":"D","x":8.2,"y":0.17},

{"k":"o","p":15,"t":"B","x":4.33,"y":2.23},{"k":"o","p":15,"t":"B","x":4.33,"y":1.62},{"k":"o","p":15,"t":"B","x":4.33,"y":1.04},
{"k":"o","p":15,"t":"D","x":5.68,"y":3.93},{"k":"o","p":15,"t":"D","x":6.95,"y":2.81},{"k":"o","p":15,"t":"D","x":5.2,"y":2.70},{"k":"o","p":15,"t":"D","x":4.9,"y":2.65},{"k":"o","p":15,"t":"D","x":5.5,"y":2.62},{"k":"o","p":15,"t":"D","x":4.6,"y":2.60},{"k":"o","p":15,"t":"D","x":5.1,"y":2.56},{"k":"o","p":15,"t":"D","x":5.8,"y":2.52},{"k":"o","p":15,"t":"D","x":4.8,"y":2.48},{"k":"o","p":15,"t":"D","x":5.3,"y":2.45},{"k":"o","p":15,"t":"D","x":4.5,"y":2.40},{"k":"o","p":15,"t":"D","x":5.0,"y":2.36},{"k":"o","p":15,"t":"D","x":5.6,"y":2.32},{"k":"o","p":15,"t":"D","x":4.7,"y":2.28},{"k":"o","p":15,"t":"D","x":5.2,"y":2.24},{"k":"o","p":15,"t":"D","x":4.9,"y":2.16},{"k":"o","p":15,"t":"D","x":5.4,"y":2.12},{"k":"o","p":15,"t":"D","x":4.6,"y":2.08},{"k":"o","p":15,"t":"D","x":5.1,"y":2.03},{"k":"o","p":15,"t":"D","x":4.8,"y":1.98},{"k":"o","p":15,"t":"D","x":5.3,"y":1.93},{"k":"o","p":15,"t":"D","x":4.5,"y":1.88},{"k":"o","p":15,"t":"D","x":5.0,"y":1.83},{"k":"o","p":15,"t":"D","x":4.7,"y":1.78},{"k":"o","p":15,"t":"D","x":6.6,"y":1.71},{"k":"o","p":15,"t":"D","x":5.2,"y":1.66},{"k":"o","p":15,"t":"D","x":4.9,"y":1.54},{"k":"o","p":15,"t":"D","x":4.6,"y":1.47},{"k":"o","p":15,"t":"D","x":5.1,"y":1.40},{"k":"o","p":15,"t":"D","x":4.8,"y":1.32},{"k":"o","p":15,"t":"D","x":4.7,"y":1.15},{"k":"o","p":15,"t":"D","x":5.0,"y":0.95},{"k":"o","p":15,"t":"D","x":4.6,"y":0.75},{"k":"o","p":15,"t":"D","x":5.3,"y":0.55},{"k":"o","p":15,"t":"D","x":4.8,"y":0.37},{"k":"o","p":15,"t":"D","x":4.4,"y":0.20},{"k":"o","p":15,"t":"D","x":6.65,"y":0.14},

{"k":"o","p":16,"t":"D","x":4.66,"y":3.93},{"k":"o","p":16,"t":"D","x":4.2,"y":2.80},{"k":"o","p":16,"t":"D","x":3.3,"y":2.70},{"k":"o","p":16,"t":"D","x":4.9,"y":2.65},{"k":"o","p":16,"t":"D","x":4.5,"y":2.62},{"k":"o","p":16,"t":"D","x":3.6,"y":2.60},{"k":"o","p":16,"t":"D","x":4.1,"y":2.56},{"k":"o","p":16,"t":"D","x":5.2,"y":2.52},{"k":"o","p":16,"t":"D","x":3.9,"y":2.48},{"k":"o","p":16,"t":"D","x":4.4,"y":2.45},{"k":"o","p":16,"t":"D","x":4.7,"y":2.40},{"k":"o","p":16,"t":"D","x":3.5,"y":2.36},{"k":"o","p":16,"t":"D","x":4.3,"y":2.32},{"k":"o","p":16,"t":"D","x":5.0,"y":2.28},{"k":"o","p":16,"t":"D","x":3.8,"y":2.24},{"k":"o","p":16,"t":"D","x":4.6,"y":2.20},{"k":"o","p":16,"t":"D","x":4.0,"y":2.16},{"k":"o","p":16,"t":"D","x":5.4,"y":2.12},{"k":"o","p":16,"t":"D","x":4.2,"y":2.08},{"k":"o","p":16,"t":"D","x":3.23,"y":2.05},{"k":"o","p":16,"t":"D","x":4.8,"y":2.03},{"k":"o","p":16,"t":"D","x":4.4,"y":1.98},{"k":"o","p":16,"t":"D","x":3.7,"y":1.93},{"k":"o","p":16,"t":"D","x":5.1,"y":1.88},{"k":"o","p":16,"t":"D","x":4.0,"y":1.83},{"k":"o","p":16,"t":"D","x":5.7,"y":1.78},{"k":"o","p":16,"t":"D","x":4.5,"y":1.72},{"k":"o","p":16,"t":"D","x":3.9,"y":1.66},{"k":"o","p":16,"t":"D","x":4.3,"y":1.60},{"k":"o","p":16,"t":"D","x":5.0,"y":1.54},{"k":"o","p":16,"t":"D","x":4.1,"y":1.47},{"k":"o","p":16,"t":"D","x":4.6,"y":1.40},{"k":"o","p":16,"t":"D","x":3.8,"y":1.32},{"k":"o","p":16,"t":"D","x":4.4,"y":1.24},{"k":"o","p":16,"t":"D","x":4.2,"y":1.15},{"k":"o","p":16,"t":"D","x":4.7,"y":1.05},{"k":"o","p":16,"t":"D","x":4.0,"y":0.95},{"k":"o","p":16,"t":"D","x":4.5,"y":0.85},{"k":"o","p":16,"t":"D","x":4.3,"y":0.72},{"k":"o","p":16,"t":"D","x":4.4,"y":0.60},{"k":"o","p":16,"t":"D","x":4.9,"y":0.37},{"k":"o","p":16,"t":"D","x":4.28,"y":0.23},{"k":"o","p":16,"t":"D","x":5.0,"y":0.12},

{"k":"f","p":1,"x":1.6,"y":1.75,"lo":1.2,"hi":2.3},{"k":"f","p":1,"x":2.0,"y":2.0,"lo":1.75,"hi":2.25},{"k":"f","p":1,"x":2.5,"y":2.2,"lo":1.95,"hi":2.45},{"k":"f","p":1,"x":3.0,"y":2.5,"lo":2.0,"hi":2.95},{"k":"f","p":1,"x":3.5,"y":2.3,"lo":1.6,"hi":3.0},{"k":"f","p":1,"x":3.8,"y":2.1,"lo":1.2,"hi":3.0},
{"k":"f","p":2,"x":1.2,"y":1.7,"lo":1.1,"hi":2.3},{"k":"f","p":2,"x":2.0,"y":1.9,"lo":1.65,"hi":2.15},{"k":"f","p":2,"x":3.0,"y":2.05,"lo":1.85,"hi":2.25},{"k":"f","p":2,"x":4.0,"y":1.95,"lo":1.7,"hi":2.2},{"k":"f","p":2,"x":5.0,"y":1.9,"lo":1.5,"hi":2.3},{"k":"f","p":2,"x":5.4,"y":1.85,"lo":1.35,"hi":2.35},
{"k":"f","p":3,"x":2.88,"y":1.65,"lo":1.3,"hi":2.0},{"k":"f","p":3,"x":3.5,"y":1.8,"lo":1.6,"hi":2.0},{"k":"f","p":3,"x":4.5,"y":2.0,"lo":1.85,"hi":2.15},{"k":"f","p":3,"x":5.5,"y":2.15,"lo":1.9,"hi":2.4},{"k":"f","p":3,"x":6.45,"y":2.25,"lo":1.8,"hi":2.7},
{"k":"f","p":4,"x":1.0,"y":2.2,"lo":1.9,"hi":2.5},{"k":"f","p":4,"x":1.3,"y":2.45,"lo":2.15,"hi":2.75},{"k":"f","p":4,"x":2.0,"y":1.95,"lo":1.7,"hi":2.2},{"k":"f","p":4,"x":2.8,"y":2.1,"lo":1.85,"hi":2.35},{"k":"f","p":4,"x":3.5,"y":2.2,"lo":1.95,"hi":2.45},{"k":"f","p":4,"x":4.5,"y":2.1,"lo":1.8,"hi":2.4},{"k":"f","p":4,"x":5.6,"y":1.8,"lo":1.3,"hi":2.3},
{"k":"f","p":5,"x":1.34,"y":1.9,"lo":1.65,"hi":2.15},{"k":"f","p":5,"x":2.0,"y":2.0,"lo":1.8,"hi":2.2},{"k":"f","p":5,"x":3.0,"y":2.15,"lo":1.95,"hi":2.35},{"k":"f","p":5,"x":4.0,"y":2.0,"lo":1.8,"hi":2.2},{"k":"f","p":5,"x":5.0,"y":1.9,"lo":1.6,"hi":2.2},{"k":"f","p":5,"x":5.6,"y":2.3,"lo":1.8,"hi":2.8},{"k":"f","p":5,"x":6.15,"y":2.85,"lo":1.9,"hi":3.8},
{"k":"f","p":6,"x":1.15,"y":1.85,"lo":1.55,"hi":2.15},{"k":"f","p":6,"x":2.0,"y":2.1,"lo":1.9,"hi":2.3},{"k":"f","p":6,"x":3.0,"y":2.25,"lo":2.0,"hi":2.5},{"k":"f","p":6,"x":3.5,"y":2.2,"lo":1.85,"hi":2.55},{"k":"f","p":6,"x":4.5,"y":1.7,"lo":1.1,"hi":2.3},{"k":"f","p":6,"x":5.7,"y":1.3,"lo":0.6,"hi":2.1},
{"k":"f","p":7,"x":1.09,"y":2.1,"lo":1.85,"hi":2.35},{"k":"f","p":7,"x":1.5,"y":2.25,"lo":2.05,"hi":2.45},{"k":"f","p":7,"x":2.2,"y":2.1,"lo":1.9,"hi":2.3},{"k":"f","p":7,"x":3.0,"y":2.0,"lo":1.75,"hi":2.25},{"k":"f","p":7,"x":4.0,"y":1.8,"lo":1.3,"hi":2.3},{"k":"f","p":7,"x":4.9,"y":1.65,"lo":0.9,"hi":2.5},
{"k":"f","p":8,"x":4.7,"y":2.6,"lo":2.2,"hi":3.0},{"k":"f","p":8,"x":5.2,"y":2.1,"lo":1.85,"hi":2.35},{"k":"f","p":8,"x":5.6,"y":1.95,"lo":1.7,"hi":2.2},{"k":"f","p":8,"x":6.3,"y":2.3,"lo":1.9,"hi":2.7},
{"k":"f","p":9,"x":1.2,"y":2.0,"lo":1.75,"hi":2.25},{"k":"f","p":9,"x":2.0,"y":2.05,"lo":1.8,"hi":2.3},{"k":"f","p":9,"x":2.5,"y":2.2,"lo":1.9,"hi":2.5},{"k":"f","p":9,"x":3.0,"y":2.05,"lo":1.6,"hi":2.5},{"k":"f","p":9,"x":3.5,"y":1.85,"lo":1.2,"hi":2.5},
{"k":"f","p":10,"x":2.8,"y":1.8,"lo":1.4,"hi":2.2},{"k":"f","p":10,"x":3.2,"y":2.1,"lo":1.85,"hi":2.35},{"k":"f","p":10,"x":3.6,"y":1.75,"lo":1.5,"hi":2.0},{"k":"f","p":10,"x":4.0,"y":2.2,"lo":1.8,"hi":2.6},{"k":"f","p":10,"x":4.58,"y":3.0,"lo":2.3,"hi":3.7},
{"k":"f","p":11,"x":2.6,"y":2.1,"lo":1.8,"hi":2.4},{"k":"f","p":11,"x":3.3,"y":1.95,"lo":1.75,"hi":2.15},{"k":"f","p":11,"x":4.0,"y":1.85,"lo":1.6,"hi":2.1},{"k":"f","p":11,"x":4.6,"y":2.2,"lo":1.85,"hi":2.55},{"k":"f","p":11,"x":5.68,"y":2.75,"lo":1.9,"hi":3.6},
{"k":"f","p":12,"x":5.44,"y":1.55,"lo":1.0,"hi":2.1},{"k":"f","p":12,"x":6.2,"y":1.7,"lo":1.4,"hi":2.0},{"k":"f","p":12,"x":7.0,"y":1.9,"lo":1.75,"hi":2.05},{"k":"f","p":12,"x":7.5,"y":2.0,"lo":1.8,"hi":2.2},{"k":"f","p":12,"x":8.0,"y":2.2,"lo":1.8,"hi":2.6},
{"k":"f","p":13,"x":3.18,"y":2.35,"lo":1.65,"hi":2.9},{"k":"f","p":13,"x":4.0,"y":2.05,"lo":1.7,"hi":2.4},{"k":"f","p":13,"x":5.0,"y":1.8,"lo":1.6,"hi":2.0},{"k":"f","p":13,"x":6.0,"y":1.95,"lo":1.8,"hi":2.1},{"k":"f","p":13,"x":7.5,"y":2.4,"lo":1.9,"hi":2.9},
{"k":"f","p":14,"x":2.88,"y":1.9,"lo":0.7,"hi":3.0},{"k":"f","p":14,"x":5.0,"y":1.95,"lo":1.4,"hi":2.5},{"k":"f","p":14,"x":7.0,"y":2.0,"lo":1.8,"hi":2.2},{"k":"f","p":14,"x":8.5,"y":2.05,"lo":1.9,"hi":2.2},{"k":"f","p":14,"x":10.0,"y":2.15,"lo":1.9,"hi":2.4},{"k":"f","p":14,"x":11.4,"y":2.3,"lo":1.6,"hi":2.95},
{"k":"f","p":15,"x":4.33,"y":1.65,"lo":1.3,"hi":2.0},{"k":"f","p":15,"x":5.0,"y":1.95,"lo":1.75,"hi":2.15},{"k":"f","p":15,"x":5.7,"y":2.15,"lo":1.9,"hi":2.4},{"k":"f","p":15,"x":6.95,"y":1.9,"lo":1.15,"hi":2.6},
{"k":"f","p":16,"x":3.24,"y":2.6,"lo":1.9,"hi":3.3},{"k":"f","p":16,"x":3.7,"y":2.1,"lo":1.8,"hi":2.4},{"k":"f","p":16,"x":4.1,"y":2.3,"lo":2.05,"hi":2.55},{"k":"f","p":16,"x":4.6,"y":1.9,"lo":1.65,"hi":2.15},{"k":"f","p":16,"x":5.1,"y":2.4,"lo":2.1,"hi":2.7},{"k":"f","p":16,"x":5.7,"y":2.3,"lo":1.6,"hi":3.0}
]},
"facet": {"field": "p", "type": "ordinal", "title": "Cytokine result (LN pg/mL)", "header": {"labels": false, "labelExpr": "''", "labelFontSize": 1, "labelPadding": 0, "title": "Cytokine result (LN pg/mL)", "titleOrient": "bottom", "titleFontSize": 18, "titleFontWeight": "normal", "titleColor": "#000", "titlePadding": 12}},
"columns": 4,
"spacing": {"row": 1, "column": 1},
"spec": {
  "width": 143,
  "height": 135,
  "layer": [
    {"transform": [{"filter": "datum.k == 's'"}],
     "mark": {"type": "rect", "fill": "#dcdcd6"},
     "encoding": {
       "x": {"datum": 0.2, "type": "quantitative", "scale": {"domain": [0.2, 12], "nice": false, "zero": false}, "axis": {"values": [2, 4, 6, 8, 10], "title": null, "labelOverlap": false, "labelFlush": false, "tickCount": 5}},
       "x2": {"datum": 12},
       "y": {"datum": 5.93, "type": "quantitative", "scale": {"domain": [-0.62, 7.17], "nice": false, "zero": false}, "axis": {"values": [0, 2, 4], "title": null}},
       "y2": {"datum": 7.17}}},
    {"transform": [{"filter": "datum.k == 's'"}],
     "mark": {"type": "rect", "fill": "#dcdcd6"},
     "encoding": {"x": {"datum": 0.2}, "x2": {"datum": 12}, "y": {"datum": 4.63}, "y2": {"datum": 5.87}}},
    {"transform": [{"filter": "datum.k == 's'"}],
     "mark": {"type": "text", "fontSize": 16, "baseline": "middle", "align": "center", "color": "#000"},
     "encoding": {"text": {"field": "p"}, "x": {"datum": 6.1}, "y": {"datum": 6.5}}},
    {"transform": [{"filter": "datum.k == 's'"}],
     "mark": {"type": "text", "fontSize": 16, "baseline": "middle", "align": "center", "color": "#000"},
     "encoding": {"text": {"field": "n"}, "x": {"datum": 6.1}, "y": {"datum": 5.24}}},
    {"transform": [{"filter": "datum.k == 's'"}],
     "mark": {"type": "rect", "fill": "white", "stroke": "#a0a0a0", "strokeWidth": 1.5},
     "encoding": {"x": {"datum": 0.2}, "x2": {"datum": 12}, "y": {"datum": -0.62}, "y2": {"datum": 4.63}}},
    {"transform": [{"filter": "datum.k == 'o'"}],
     "mark": {"type": "point", "filled": false, "strokeWidth": 1.25, "opacity": 1},
     "encoding": {
       "x": {"field": "x", "type": "quantitative", "axis": {"values": [2, 4, 6, 8, 10], "title": null, "labelOverlap": false, "labelFlush": false, "tickCount": 5}},
       "y": {"field": "y", "type": "quantitative", "axis": {"values": [0, 2, 4], "title": null}},
       "color": {"field": "t", "type": "nominal", "scale": {"domain": ["D", "B"], "range": ["#3b4ea0", "#a23a2e"]}, "legend": {"title": null, "orient": "none", "legendX": 9, "legendY": 609, "direction": "horizontal", "columnPadding": 9, "labelOffset": 6, "labelExpr": "datum.label == 'D' ? 'Detectable' : 'Below LLQ'"}},
       "shape": {"field": "t", "type": "nominal", "scale": {"domain": ["D", "B"], "range": ["circle", "M-1,0L1,0M0,-1L0,1"]}, "legend": {"title": null, "orient": "none", "legendX": 9, "legendY": 609, "direction": "horizontal", "columnPadding": 9, "labelOffset": 6, "labelExpr": "datum.label == 'D' ? 'Detectable' : 'Below LLQ'"}},
       "size": {"field": "t", "type": "nominal", "scale": {"domain": ["D", "B"], "range": [25, 40]}, "legend": {"title": null, "orient": "none", "legendX": 9, "legendY": 609, "direction": "horizontal", "columnPadding": 9, "labelOffset": 6, "labelExpr": "datum.label == 'D' ? 'Detectable' : 'Below LLQ'"}}
     }},
    {"transform": [{"filter": "datum.k == 'f'"}],
     "mark": {"type": "area", "opacity": 0.55},
     "encoding": {
       "x": {"field": "x", "type": "quantitative"},
       "y": {"field": "lo", "type": "quantitative"},
       "y2": {"field": "hi"},
       "fill": {"datum": "95% Confidence Limits", "scale": {"range": ["#b3c6e6"]}, "legend": {"title": null, "orient": "none", "legendX": 210, "legendY": 609, "labelOffset": 6, "symbolType": "square", "symbolSize": 100, "symbolStrokeColor": "#777777", "symbolStrokeWidth": 1}}
     }},
    {"transform": [{"filter": "datum.k == 'f'"}],
     "mark": {"type": "line", "strokeWidth": 2.2},
     "encoding": {
       "x": {"field": "x", "type": "quantitative"},
       "y": {"field": "y", "type": "quantitative"},
       "stroke": {"datum": "Loess", "scale": {"range": ["#7286b8"]}, "legend": {"title": null, "orient": "none", "legendX": 408, "legendY": 590, "labelOffset": 13, "symbolType": "stroke", "symbolSize": 2900, "symbolStrokeWidth": 2}}
     }},
    {"transform": [{"filter": "datum.k == 's'"}],
     "mark": {"type": "text", "fontSize": 14.5, "align": "right", "baseline": "bottom", "dx": -2, "dy": 1, "color": "#000"},
     "encoding": {"text": {"field": "r"}, "x": {"datum": 12}, "y": {"datum": -0.62}}}
  ]
},
"config": {
  "font": "Liberation Sans",
  "view": {"stroke": null},
  "axis": {"domain": false, "grid": false, "tickColor": "#8c8c8c", "labelFontSize": 16, "labelColor": "#000", "titleFontSize": 18, "titleFontWeight": "normal", "titleColor": "#000", "labelOverlap": false},
  "axisY": {"tickSize": 7, "labelPadding": 5},
  "axisX": {"tickSize": 9, "labelPadding": 5, "labelOverlap": false, "labelSeparation": 0, "labelFlush": false},
  "axisQuantitative": {"labelOverlap": false},
  "legend": {"labelFontSize": 15, "labelColor": "#000"}
}
}
